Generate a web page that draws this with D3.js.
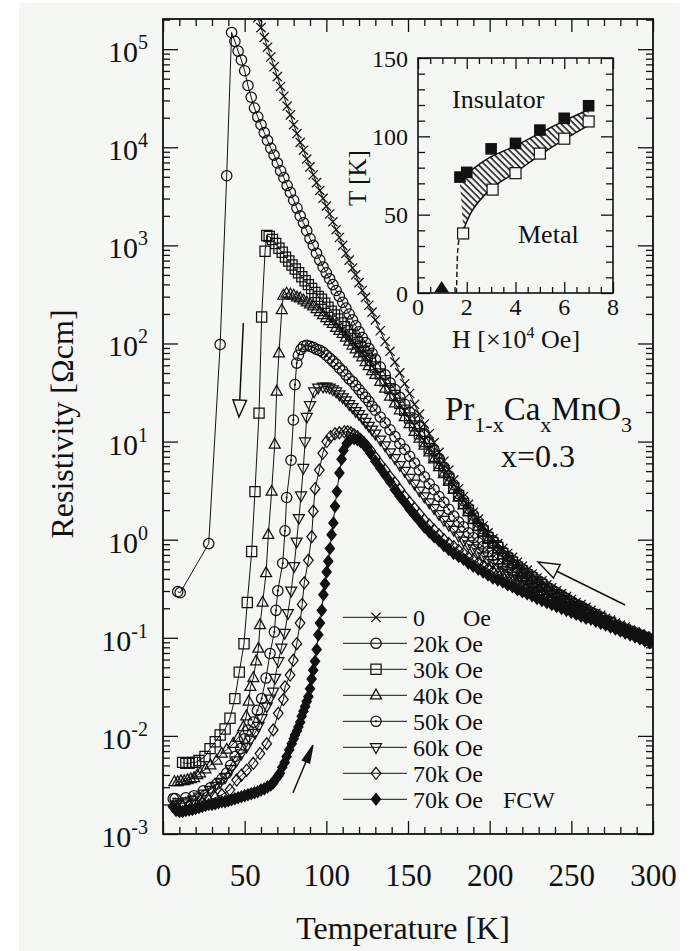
<!DOCTYPE html>
<html>
<head>
<meta charset="utf-8">
<script src="https://cdn.jsdelivr.net/npm/d3@7"></script>
<style>
  body { margin: 0; background: #fff; }
  svg { display: block; }
  text { font-family: "Liberation Serif", "DejaVu Serif", serif; fill: #111; }
</style>
</head>
<body>
<div id="chart"></div>
<script>
// values are log10 of resistivity (Ohm cm)

// temperatures (K) shared by every curve above 130 K
var tempTail = [130,133,136,139,142,145,148,151,154,157,160,163,166,169,172,175,178,181,184,187,190,193,196,199,202,205,208,211,214,217,220,223,226,229,232,235,238,241,244,247,250,253,256,259,262,265,268,271,274,277,280,283,286,289,292,295,298];

// 0 Oe
var tempZero = [56,58,60,62,64,66,68,70,72,74,76,78,80,82,84,86,88,90,92,94,96,98,100,102,104,106,108,110,112,114,116,118,120,122,124,126,128];
var logZero = [5.42,5.32,5.22,5.12,5.02,4.92,4.82,4.72,4.62,4.52,4.42,4.33,4.23,4.14,4.05,3.97,3.88,3.80,3.72,3.64,3.56,3.48,3.40,3.32,3.24,3.16,3.08,3.00,2.92,2.85,2.77,2.70,2.62,2.54,2.47,2.39,2.32];
var tailZero = [2.24,2.13,2.02,1.92,1.81,1.70,1.59,1.49,1.38,1.28,1.18,1.08,0.99,0.89,0.80,0.71,0.61,0.52,0.44,0.36,0.28,0.21,0.14,0.07,0.01,-0.04,-0.09,-0.14,-0.18,-0.23,-0.27,-0.31,-0.35,-0.39,-0.42,-0.46,-0.49,-0.52,-0.55,-0.58,-0.61,-0.64,-0.66,-0.69,-0.72,-0.75,-0.77,-0.80,-0.82,-0.85,-0.87,-0.89,-0.92,-0.94,-0.96,-0.98,-1.00];

// 20k Oe
var temp20k = [9,10.5,28,35,39,42,44,46,48,50,52,54,56,58,60,62,64,66,68,70,72,74,76,78,80,82,84,86,88,90,92,94,96,98,100,102,104,106,108,110,112,114,116,118,120,122,124,126,128];
var log20k = [-0.53,-0.54,-0.04,1.99,3.71,5.17,5.08,4.98,4.89,4.78,4.63,4.51,4.40,4.31,4.23,4.15,4.07,3.99,3.92,3.84,3.76,3.69,3.61,3.54,3.46,3.38,3.30,3.23,3.15,3.07,3.00,2.92,2.85,2.78,2.72,2.66,2.60,2.54,2.48,2.42,2.36,2.30,2.24,2.18,2.12,2.06,2.01,1.95,1.90];
var tail20k = [1.84,1.76,1.68,1.60,1.53,1.45,1.38,1.30,1.23,1.15,1.08,0.99,0.91,0.83,0.74,0.65,0.56,0.47,0.40,0.32,0.25,0.18,0.11,0.04,-0.01,-0.06,-0.12,-0.17,-0.21,-0.26,-0.30,-0.34,-0.37,-0.41,-0.44,-0.48,-0.51,-0.54,-0.57,-0.60,-0.63,-0.66,-0.68,-0.71,-0.74,-0.76,-0.79,-0.82,-0.84,-0.87,-0.89,-0.91,-0.93,-0.95,-0.97,-0.99,-1.01];

// 30k Oe
var temp30k = [12,14,16,18,20,22,25.7,28.8,32,35,38,41,44,46.7,49.6,51.6,54.3,56.3,58.8,60.4,62.5,63.5,65,67,69,71,73,75,77,79,81,83,85,87,89,91,93,95,97,99,101,103,105,107,109,111,113,115,117,119,121,123,125,127];
var log30k = [-2.27,-2.28,-2.28,-2.27,-2.27,-2.25,-2.21,-2.13,-2.06,-1.99,-1.93,-1.82,-1.62,-1.35,-1.06,-0.64,-0.12,0.49,1.29,2.27,2.94,3.10,3.09,3.06,3.02,2.97,2.93,2.88,2.84,2.80,2.76,2.72,2.68,2.64,2.60,2.56,2.52,2.48,2.45,2.41,2.37,2.33,2.29,2.25,2.21,2.17,2.13,2.09,2.05,2.01,1.97,1.92,1.88,1.83];
var tail30k = [1.76,1.69,1.62,1.54,1.47,1.39,1.32,1.24,1.16,1.08,1.00,0.93,0.85,0.78,0.70,0.62,0.53,0.45,0.37,0.30,0.22,0.15,0.09,0.02,-0.03,-0.08,-0.14,-0.19,-0.23,-0.28,-0.32,-0.36,-0.39,-0.43,-0.46,-0.50,-0.53,-0.56,-0.59,-0.62,-0.65,-0.68,-0.70,-0.73,-0.76,-0.78,-0.80,-0.83,-0.85,-0.88,-0.90,-0.92,-0.94,-0.96,-0.98,-1.00,-1.02];

// 40k Oe
var temp40k = [7,9,11,13,15,17,19,21,22.7,26,29,32.9,36,39,43,46,49.2,51,52.5,53.5,55.3,57,58.4,59.4,61,63.1,64.5,66.5,68.4,69.6,71,72.7,73.7,75.7,78,80,82,84,86,88,90,92,94,96,98,100,102,104,106,108,110,112,114,116,118,120,122,124,126,128];
var log40k = [-2.47,-2.47,-2.46,-2.46,-2.45,-2.44,-2.43,-2.40,-2.38,-2.34,-2.30,-2.25,-2.18,-2.14,-2.08,-2.02,-1.91,-1.80,-1.65,-1.50,-1.41,-1.24,-1.11,-0.87,-0.64,-0.34,0.05,0.49,0.97,1.51,1.90,2.34,2.49,2.51,2.50,2.49,2.47,2.46,2.44,2.42,2.40,2.38,2.35,2.32,2.29,2.26,2.23,2.20,2.16,2.13,2.10,2.06,2.02,1.98,1.94,1.90,1.86,1.81,1.77,1.72];
var tail40k = [1.68,1.61,1.54,1.46,1.39,1.32,1.25,1.18,1.10,1.03,0.96,0.89,0.82,0.74,0.67,0.59,0.51,0.43,0.35,0.28,0.20,0.13,0.07,0.00,-0.05,-0.10,-0.16,-0.21,-0.25,-0.30,-0.34,-0.38,-0.41,-0.45,-0.48,-0.52,-0.55,-0.58,-0.61,-0.64,-0.67,-0.69,-0.72,-0.74,-0.77,-0.79,-0.82,-0.84,-0.86,-0.89,-0.91,-0.93,-0.95,-0.97,-0.99,-1.01,-1.03];

// 50k Oe
var temp50k = [6.3,7.5,14,19,24.7,29,32.9,36,39,41.5,44.1,47.6,50,52.2,55.3,57.8,60.4,63.1,65.5,68.2,69.2,70.3,73.3,74.7,75.7,78.4,79.8,80.8,81.9,82.9,84.5,86,88,90,92,94,96,98,100,102,104,106,108,110,112,114,116,118,120,122,124,126,128];
var log50k = [-2.64,-2.64,-2.63,-2.61,-2.56,-2.53,-2.49,-2.44,-2.38,-2.30,-2.21,-2.13,-2.03,-1.94,-1.86,-1.74,-1.62,-1.41,-1.16,-0.94,-0.72,-0.52,-0.24,0.09,0.43,0.81,1.22,1.58,1.80,1.88,1.94,1.97,1.98,1.97,1.96,1.94,1.93,1.91,1.88,1.85,1.82,1.79,1.75,1.72,1.68,1.64,1.61,1.57,1.53,1.49,1.45,1.41,1.36];
var tail50k = [1.32,1.25,1.19,1.12,1.05,0.98,0.92,0.85,0.78,0.71,0.64,0.57,0.51,0.44,0.38,0.31,0.24,0.18,0.13,0.07,0.02,-0.03,-0.07,-0.12,-0.16,-0.20,-0.24,-0.27,-0.31,-0.34,-0.38,-0.41,-0.45,-0.48,-0.51,-0.54,-0.57,-0.60,-0.62,-0.65,-0.68,-0.70,-0.73,-0.75,-0.78,-0.80,-0.82,-0.85,-0.87,-0.89,-0.91,-0.93,-0.95,-0.97,-0.99,-1.01,-1.03];

// 60k Oe
var temp60k = [8,12,15,18.6,22,25,28.8,32,35,38,41.5,45.1,48,51.2,53.5,56.3,58.5,60.4,63.5,65.5,67.5,68.6,70.6,72.5,74.5,76.5,78.5,80.3,81.8,83.2,84.5,85.9,87,88,90,92.5,95,98,100,102,104,106,108,110,112,114,116,118,120,122,124,126,128];
var log60k = [-2.70,-2.69,-2.67,-2.65,-2.62,-2.59,-2.55,-2.51,-2.47,-2.42,-2.34,-2.25,-2.18,-2.11,-2.04,-1.97,-1.90,-1.82,-1.70,-1.62,-1.55,-1.41,-1.24,-1.10,-0.95,-0.75,-0.52,-0.27,-0.02,0.22,0.45,0.73,1.00,1.25,1.37,1.51,1.55,1.56,1.56,1.55,1.53,1.51,1.48,1.45,1.42,1.38,1.35,1.31,1.28,1.24,1.20,1.16,1.12];
var tail60k = [1.08,1.02,0.96,0.89,0.83,0.76,0.70,0.63,0.57,0.50,0.44,0.38,0.32,0.26,0.20,0.15,0.10,0.04,-0.01,-0.05,-0.09,-0.13,-0.17,-0.21,-0.24,-0.28,-0.31,-0.34,-0.37,-0.40,-0.43,-0.46,-0.48,-0.51,-0.54,-0.56,-0.59,-0.62,-0.64,-0.67,-0.69,-0.71,-0.74,-0.76,-0.79,-0.81,-0.83,-0.85,-0.88,-0.90,-0.92,-0.94,-0.96,-0.98,-1.00,-1.02,-1.04];

// 70k Oe
var temp70k = [8,12,16,20,24,28,32,36,41,45.1,48,51.2,55.3,59.4,63.5,67.5,70.6,73.7,74.7,77.8,79.8,81.9,83.9,85.2,86.5,89,91,92,93.1,95.7,97.8,100.2,102.5,105.3,108,111,113,115,117,119,121,123,125,127];
var log70k = [-2.72,-2.72,-2.71,-2.70,-2.68,-2.66,-2.63,-2.60,-2.55,-2.45,-2.40,-2.35,-2.28,-2.18,-2.08,-1.94,-1.77,-1.63,-1.50,-1.38,-1.23,-1.06,-0.85,-0.66,-0.44,-0.21,0.03,0.29,0.52,0.71,0.88,1.00,1.05,1.08,1.09,1.10,1.10,1.09,1.07,1.05,1.02,0.99,0.95,0.91];
var tail70k = [0.84,0.77,0.71,0.64,0.58,0.51,0.44,0.38,0.32,0.26,0.20,0.15,0.10,0.05,0.00,-0.04,-0.07,-0.11,-0.14,-0.18,-0.21,-0.24,-0.27,-0.30,-0.33,-0.35,-0.38,-0.41,-0.43,-0.46,-0.48,-0.50,-0.53,-0.55,-0.57,-0.60,-0.62,-0.64,-0.66,-0.68,-0.70,-0.72,-0.74,-0.76,-0.78,-0.80,-0.83,-0.85,-0.87,-0.89,-0.91,-0.93,-0.95,-0.97,-0.99,-1.01,-1.03];

// 70k Oe FCW
var tempFcw = [6,8,10,12,14,16,18,20,22,24,26,28,30,32,34,36,38,40,42,44,46,48,50,52,54,56,58,60,62,64,66,67.5,69,70.5,71.6,73,74.5,75.7,77.3,78.8,80,80.8,82,82.9,84,84.9,86,87,88,89,90,91,92,93.1,94.1,95.1,96.1,97.2,98.2,99.2,100.2,101.2,102.2,103.2,104.3,105.3,106.5,108,109.3,110.5,112.5,114.5,117,119,121,123,125,127];
var logFcw = [-2.72,-2.76,-2.77,-2.77,-2.76,-2.755,-2.75,-2.74,-2.73,-2.72,-2.71,-2.70,-2.70,-2.69,-2.68,-2.67,-2.67,-2.66,-2.65,-2.64,-2.63,-2.62,-2.61,-2.60,-2.59,-2.58,-2.57,-2.55,-2.54,-2.52,-2.50,-2.48,-2.44,-2.41,-2.38,-2.32,-2.27,-2.21,-2.14,-2.08,-2.03,-1.99,-1.95,-1.91,-1.86,-1.80,-1.75,-1.70,-1.65,-1.60,-1.52,-1.42,-1.33,-1.24,-1.12,-0.97,-0.85,-0.72,-0.56,-0.45,-0.33,-0.22,-0.09,0.05,0.17,0.34,0.49,0.68,0.82,0.91,0.98,1.02,1.03,1.02,1.00,0.97,0.93,0.88];
var tailFcw = [0.80,0.73,0.66,0.59,0.51,0.44,0.38,0.31,0.25,0.19,0.13,0.08,0.03,-0.01,-0.06,-0.10,-0.14,-0.17,-0.20,-0.24,-0.27,-0.30,-0.33,-0.36,-0.39,-0.41,-0.43,-0.46,-0.48,-0.51,-0.53,-0.55,-0.57,-0.60,-0.62,-0.64,-0.66,-0.68,-0.70,-0.72,-0.74,-0.76,-0.78,-0.80,-0.81,-0.83,-0.85,-0.87,-0.89,-0.91,-0.93,-0.95,-0.97,-0.99,-1.01,-1.03,-1.05];

var legendNames = ["0", "20k", "30k", "40k", "50k", "60k", "70k", "70k"];

// inset: phase diagram, H in 10^4 Oe, T in K
var insetFilledH = [1.72, 2.0, 3.0, 4.0, 5.0, 6.0, 7.0];
var insetFilledT = [74, 77, 92, 95.5, 104, 111.5, 119.5];
var insetOpenH = [1.85, 3.06, 4.0, 5.0, 6.0, 7.0];
var insetOpenT = [38, 66, 76.5, 89, 98.5, 109.5];
var insetTriangleH = [0.97];
var insetTriangleT = [0];
var upperH = [1.72, 2.0, 2.5, 3.0, 4.0, 5.0, 6.0, 7.0];
var upperT = [71, 76, 82, 87, 94, 102, 110, 117];
var lowerH = [1.86, 2.2, 2.7, 3.2, 4.0, 5.0, 6.0, 7.0];
var lowerT = [40, 52, 62, 69, 77, 88, 98, 107];
var dashH = [1.58, 1.6, 1.63, 1.7, 1.86];
var dashT = [0, 15, 27, 35, 40];

// ------------------------------------------------------------------
var W = 692, H = 951;
var ink = "#111";
var paper = "#f4f7f4";

var svg = d3.select("#chart").append("svg").attr("width", W).attr("height", H);
svg.append("rect").attr("x", 19).attr("y", 3).attr("width", 661).attr("height", 948).attr("fill", paper);

var x = d3.scaleLinear().domain([0, 300]).range([163, 653]);
var y = d3.scaleLog().domain([1e-3, 2.03e5]).range([834, 19]);

var defs = svg.append("defs");
defs.append("clipPath").attr("id", "plotClip")
  .append("rect").attr("x", 163).attr("y", 19).attr("width", 490).attr("height", 815);
var hatch = defs.append("pattern").attr("id", "hatch")
  .attr("patternUnits", "userSpaceOnUse").attr("width", 4.6).attr("height", 4.6)
  .attr("patternTransform", "rotate(-45)");
hatch.append("line").attr("x1", 1).attr("y1", 0).attr("x2", 1).attr("y2", 4.6)
  .attr("stroke", ink).attr("stroke-width", 1.5);

// marker shapes
function shapePath(shape) {
  switch (shape) {
    case "cross": return "M-4.6,-4.6L4.6,4.6M-4.6,4.6L4.6,-4.6";
    case "circle":
    case "dotcircle": return "M5.2,0A5.2,5.2 0 1,1 -5.2,0A5.2,5.2 0 1,1 5.2,0Z";
    case "square": return "M-5.1,-5.1H5.1V5.1H-5.1Z";
    case "triup": return "M0,-6.2L5.5,3.6L-5.5,3.6Z";
    case "tridown": return "M0,6.2L5.5,-3.6L-5.5,-3.6Z";
    case "diamond": return "M0,-6L4.8,0L0,6L-4.8,0Z";
    case "fdiamond": return "M0,-5.8L4.6,0L0,5.8L-4.6,0Z";
  }
}

function drawMarker(g, shape, px, py) {
  g.append("path")
    .attr("d", shapePath(shape))
    .attr("transform", "translate(" + px + "," + py + ")")
    .attr("fill", shape == "fdiamond" ? ink : "none")
    .attr("stroke", ink)
    .attr("stroke-width", 1.25);
  if (shape == "dotcircle") {
    g.append("circle").attr("cx", px).attr("cy", py).attr("r", 1.1).attr("fill", ink);
  }
}

var series = [
  { shape: "cross", temps: tempZero, logs: logZero, tail: tailZero },
  { shape: "circle", temps: temp20k, logs: log20k, tail: tail20k },
  { shape: "square", temps: temp30k, logs: log30k, tail: tail30k },
  { shape: "triup", temps: temp40k, logs: log40k, tail: tail40k },
  { shape: "dotcircle", temps: temp50k, logs: log50k, tail: tail50k },
  { shape: "tridown", temps: temp60k, logs: log60k, tail: tail60k },
  { shape: "diamond", temps: temp70k, logs: log70k, tail: tail70k },
  { shape: "fdiamond", temps: tempFcw, logs: logFcw, tail: tailFcw }
];

series.forEach(function (s) {
  var t = s.temps.concat(tempTail);
  var l = s.logs.concat(s.tail);
  if (t.length != l.length) console.warn("length mismatch", s.shape, t.length, l.length);
  var n = Math.min(t.length, l.length);
  s.points = d3.range(n).map(function (i) { return [t[i], Math.pow(10, l[i])]; });
});

var curve = d3.line()
  .x(function (d) { return x(d[0]); })
  .y(function (d) { return y(d[1]); });

var plot = svg.append("g").attr("clip-path", "url(#plotClip)");
series.forEach(function (s) {
  var g = plot.append("g");
  g.append("path").attr("d", curve(s.points))
    .attr("fill", "none").attr("stroke", ink).attr("stroke-width", 1);
  s.points.forEach(function (p) { drawMarker(g, s.shape, x(p[0]), y(p[1])); });
});

// ---- main axes ----
var xMajor = d3.range(0, 301, 50);
var xMinor = d3.range(0, 301, 10).filter(function (v) { return v % 50 != 0; });
var decades = d3.range(-3, 6).map(function (n) { return Math.pow(10, n); });
var yMinor = [];
decades.forEach(function (d) {
  for (var k = 2; k <= 9; k++) if (d * k <= 2.03e5) yMinor.push(d * k);
});

function styleAxis(g) {
  g.select(".domain").remove();
  g.selectAll("line").attr("stroke", ink).attr("stroke-width", 1.3);
}

svg.append("g").attr("transform", "translate(0,834)")
  .call(d3.axisBottom(x).tickValues(xMajor).tickSize(-13).tickPadding(30).tickFormat(d3.format("d")))
  .call(styleAxis)
  .call(function (g) {
    g.attr("font-size", null).attr("font-family", null);
    g.selectAll("text").attr("font-size", 31).attr("fill", ink);
  });
svg.append("g").attr("transform", "translate(0,834)")
  .call(d3.axisBottom(x).tickValues(xMinor).tickSize(-7).tickFormat("")).call(styleAxis);
svg.append("g").attr("transform", "translate(0,19)")
  .call(d3.axisTop(x).tickValues(xMajor).tickSize(-13).tickFormat("")).call(styleAxis);
svg.append("g").attr("transform", "translate(0,19)")
  .call(d3.axisTop(x).tickValues(xMinor).tickSize(-7).tickFormat("")).call(styleAxis);
svg.append("g").attr("transform", "translate(163,0)")
  .call(d3.axisLeft(y).tickValues(decades).tickSize(-15).tickFormat("")).call(styleAxis);
svg.append("g").attr("transform", "translate(163,0)")
  .call(d3.axisLeft(y).tickValues(yMinor).tickSize(-7).tickFormat("")).call(styleAxis);
svg.append("g").attr("transform", "translate(653,0)")
  .call(d3.axisRight(y).tickValues(decades).tickSize(-15).tickFormat("")).call(styleAxis);
svg.append("g").attr("transform", "translate(653,0)")
  .call(d3.axisRight(y).tickValues(yMinor).tickSize(-7).tickFormat("")).call(styleAxis);

svg.append("rect").attr("x", 163).attr("y", 19).attr("width", 490).attr("height", 815)
  .attr("fill", "none").attr("stroke", ink).attr("stroke-width", 1.8);

// y tick labels 10^n
decades.forEach(function (d) {
  var n = Math.round(Math.log10(d));
  var t = svg.append("text").attr("x", 148).attr("y", y(d) + 13)
    .attr("text-anchor", "end").attr("font-size", 30);
  t.append("tspan").text("10");
  t.append("tspan").attr("font-size", 20).attr("dy", -13).text(String(n));
});

svg.append("text").attr("x", 403).attr("y", 939).attr("text-anchor", "middle")
  .attr("font-size", 32).text("Temperature [K]");
svg.append("text").attr("transform", "translate(73,424) rotate(-90)")
  .attr("text-anchor", "middle").attr("font-size", 32).text("Resistivity [\u03A9cm]");

// ---- arrows (data coordinates: T, rho) ----
var arrows = [
  { from: [49.2, 162], to: [46.5, 17.8], len: 17, half: 6.8, open: true },
  { from: [282.9, 0.216], to: [229.6, 0.593], len: 21, half: 7.5, open: true },
  { from: [79.6, 0.00263], to: [91.8, 0.00807], len: 18, half: 3.8, open: false }
];
arrows.forEach(function (a) {
  var x0 = x(a.from[0]), y0 = y(a.from[1]), x1 = x(a.to[0]), y1 = y(a.to[1]);
  var ang = Math.atan2(y1 - y0, x1 - x0);
  var bx = x1 - a.len * Math.cos(ang), by = y1 - a.len * Math.sin(ang);
  var px = -Math.sin(ang) * a.half, py = Math.cos(ang) * a.half;
  svg.append("line").attr("x1", x0).attr("y1", y0).attr("x2", bx).attr("y2", by)
    .attr("stroke", ink).attr("stroke-width", 1.5);
  svg.append("path")
    .attr("d", "M" + x1 + "," + y1 + "L" + (bx + px) + "," + (by + py) + "L" + (bx - px) + "," + (by - py) + "Z")
    .attr("fill", a.open ? paper : ink).attr("stroke", ink).attr("stroke-width", 1.4)
    .attr("stroke-linejoin", "miter");
});

// ---- compound label ----
var formula = svg.append("text").attr("x", 445).attr("y", 420).attr("font-size", 33);
formula.append("tspan").text("Pr");
formula.append("tspan").attr("font-size", 22).attr("dy", 12).text("1-x");
formula.append("tspan").attr("dy", -12).text("Ca");
formula.append("tspan").attr("font-size", 22).attr("dy", 12).text("x");
formula.append("tspan").attr("dy", -12).text("MnO");
formula.append("tspan").attr("font-size", 22).attr("dy", 12).text("3");
svg.append("text").attr("x", 538).attr("y", 467).attr("text-anchor", "middle")
  .attr("font-size", 32).text("x=0.3");

// ---- legend ----
var legend = svg.append("g");
series.forEach(function (s, i) {
  var cy = 617.3 + i * 26;
  legend.append("line").attr("x1", 343).attr("x2", 407).attr("y1", cy).attr("y2", cy)
    .attr("stroke", ink).attr("stroke-width", 1);
  drawMarker(legend, s.shape, 376, cy);
  var t = legend.append("text").attr("x", 413).attr("y", cy + 8.5).attr("font-size", 24);
  if (i == 0) {
    t.append("tspan").text(legendNames[i]);
    t.append("tspan").attr("x", 463).text("Oe");
  } else {
    t.append("tspan").text(legendNames[i] + " Oe");
    if (i == 7) t.append("tspan").attr("x", 503).text("FCW");
  }
});

// ---- inset ----
var xi = d3.scaleLinear().domain([0, 8]).range([418, 613]);
var yi = d3.scaleLinear().domain([0, 150]).range([293, 58]);
var inset = svg.append("g");
inset.append("rect").attr("x", 418).attr("y", 58).attr("width", 195).attr("height", 235).attr("fill", paper);

var boundary = d3.line()
  .x(function (d) { return xi(d[0]); })
  .y(function (d) { return yi(d[1]); })
  .curve(d3.curveCatmullRom.alpha(0.5));
var upperPts = d3.zip(upperH, upperT);
var lowerPts = d3.zip(lowerH, lowerT);
var region = boundary(upperPts) + "L" + boundary(lowerPts.slice().reverse()).slice(1) + "Z";
inset.append("path").attr("d", region).attr("fill", "url(#hatch)");
inset.append("path").attr("d", boundary(upperPts)).attr("fill", "none").attr("stroke", ink).attr("stroke-width", 1.5);
inset.append("path").attr("d", boundary(lowerPts)).attr("fill", "none").attr("stroke", ink).attr("stroke-width", 1.5);
inset.append("path").attr("d", boundary(d3.zip(dashH, dashT))).attr("fill", "none")
  .attr("stroke", ink).attr("stroke-width", 1.4).attr("stroke-dasharray", "5,3");

d3.zip(insetOpenH, insetOpenT).forEach(function (p) {
  inset.append("rect").attr("x", xi(p[0]) - 5.5).attr("y", yi(p[1]) - 5.5)
    .attr("width", 11).attr("height", 11).attr("fill", paper).attr("stroke", ink).attr("stroke-width", 1.2);
});
d3.zip(insetFilledH, insetFilledT).forEach(function (p) {
  inset.append("rect").attr("x", xi(p[0]) - 5.8).attr("y", yi(p[1]) - 5.8)
    .attr("width", 11.6).attr("height", 11.6).attr("fill", ink);
});
d3.zip(insetTriangleH, insetTriangleT).forEach(function (p) {
  var cx = xi(p[0]), cy = yi(p[1]);
  inset.append("path").attr("d", "M" + cx + "," + (cy - 12) + "L" + (cx + 7.5) + "," + (cy - 0.5) + "L" + (cx - 7.5) + "," + (cy - 0.5) + "Z")
    .attr("fill", ink);
});

var hiMajor = d3.range(0, 8.01, 2);
var hiMinor = d3.range(0, 8.01, 0.5).filter(function (v) { return v % 2 != 0; });
var tiMajor = d3.range(0, 151, 50);
var tiMinor = d3.range(0, 151, 10).filter(function (v) { return v % 50 != 0; });

inset.append("g").attr("transform", "translate(0,293)")
  .call(d3.axisBottom(xi).tickValues(hiMajor).tickSize(-11).tickFormat("")).call(styleAxis);
inset.append("g").attr("transform", "translate(0,293)")
  .call(d3.axisBottom(xi).tickValues(hiMinor).tickSize(-6).tickFormat("")).call(styleAxis);
inset.append("g").attr("transform", "translate(0,58)")
  .call(d3.axisTop(xi).tickValues(hiMajor).tickSize(-11).tickFormat("")).call(styleAxis);
inset.append("g").attr("transform", "translate(0,58)")
  .call(d3.axisTop(xi).tickValues(hiMinor).tickSize(-6).tickFormat("")).call(styleAxis);
inset.append("g").attr("transform", "translate(418,0)")
  .call(d3.axisLeft(yi).tickValues(tiMajor).tickSize(-12).tickFormat("")).call(styleAxis);
inset.append("g").attr("transform", "translate(418,0)")
  .call(d3.axisLeft(yi).tickValues(tiMinor).tickSize(-7).tickFormat("")).call(styleAxis);
inset.append("g").attr("transform", "translate(613,0)")
  .call(d3.axisRight(yi).tickValues(tiMajor).tickSize(-12).tickFormat("")).call(styleAxis);
inset.append("g").attr("transform", "translate(613,0)")
  .call(d3.axisRight(yi).tickValues(tiMinor).tickSize(-7).tickFormat("")).call(styleAxis);
inset.append("rect").attr("x", 418).attr("y", 58).attr("width", 195).attr("height", 235)
  .attr("fill", "none").attr("stroke", ink).attr("stroke-width", 1.6);

tiMajor.forEach(function (v) {
  inset.append("text").attr("x", 408).attr("y", yi(v) + 8.5).attr("text-anchor", "end")
    .attr("font-size", 24).text(v);
});
hiMajor.forEach(function (v) {
  inset.append("text").attr("x", xi(v)).attr("y", 315).attr("text-anchor", "middle")
    .attr("font-size", 24).text(v);
});
var hLabel = inset.append("text").attr("x", 516).attr("y", 348).attr("text-anchor", "middle").attr("font-size", 26);
hLabel.append("tspan").text("H [\u00D710");
hLabel.append("tspan").attr("font-size", 16).attr("dy", -10).text("4");
hLabel.append("tspan").attr("dy", 10).text(" Oe]");
inset.append("text").attr("transform", "translate(366,178) rotate(-90)")
  .attr("text-anchor", "middle").attr("font-size", 25).text("T [K]");
inset.append("text").attr("x", 452).attr("y", 108).attr("font-size", 26).text("Insulator");
inset.append("text").attr("x", 518).attr("y", 243).attr("font-size", 26).text("Metal");
</script>
</body>
</html>
